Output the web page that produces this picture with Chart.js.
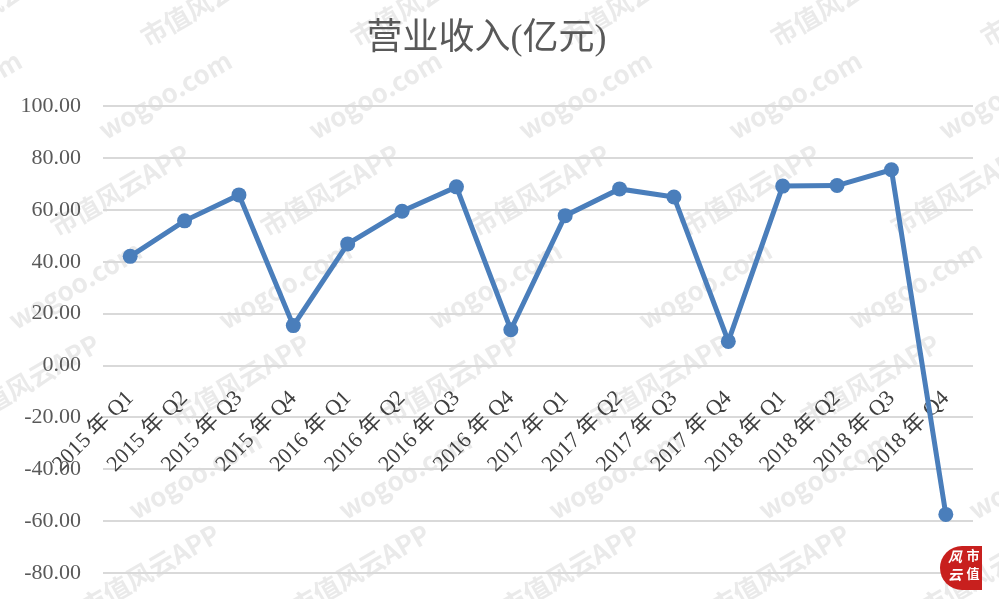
<!DOCTYPE html>
<html>
<head>
<meta charset="utf-8">
<script src="https://cdn.jsdelivr.net/npm/chart.js@4/dist/chart.umd.min.js"></script>
<style>
  html, body { margin: 0; padding: 0; background: #fff; }
  #wrap { width: 999px; height: 599px; position: relative; }
</style>
</head>
<body>
<div id="wrap"><canvas id="revenueChart"></canvas></div>
<script>
var quarters = [
  "2015 年 Q1", "2015 年 Q2", "2015 年 Q3", "2015 年 Q4",
  "2016 年 Q1", "2016 年 Q2", "2016 年 Q3", "2016 年 Q4",
  "2017 年 Q1", "2017 年 Q2", "2017 年 Q3", "2017 年 Q4",
  "2018 年 Q1", "2018 年 Q2", "2018 年 Q3", "2018 年 Q4"
];
var revenue = [
  42.1, 55.8, 65.8, 15.4,
  46.9, 59.5, 68.9, 13.8,
  57.8, 68.1, 65.0, 9.3,
  69.2, 69.4, 75.5, -57.4
];
var yTicks = [100, 80, 60, 40, 20, 0, -20, -40, -60, -80];

var serif = "'Liberation Serif', 'Noto Sans CJK SC', serif";

// faint watermark behind the chart
var watermark = {
  id: "watermark",
  beforeDraw: function (chart) {
    var ctx = chart.ctx;
    ctx.save();
    ctx.font = "bold 26px 'Noto Sans CJK SC', sans-serif";
    ctx.fillStyle = "rgba(170,170,170,0.25)";
    ctx.textAlign = "center";
    ctx.textBaseline = "middle";
    for (var r = -2; r < 8; r++) {
      for (var c = -1; c < 6; c++) {
        var x = c * 210 + (r % 2) * 105 + r * 60;
        var y = r * 95;
        ctx.save();
        ctx.translate(x, y);
        ctx.rotate(-Math.PI / 6);
        ctx.fillText(r % 2 === 0 ? "市值风云APP" : "wogoo.com", 0, 0);
        ctx.restore();
      }
    }
    ctx.restore();
  },
  afterDraw: function (chart) {
    var ctx = chart.ctx;
    ctx.save();
    ctx.fillStyle = "#c8201e";
    ctx.beginPath();
    ctx.arc(962, 568, 22, Math.PI / 2, Math.PI * 1.5);
    ctx.fill();
    ctx.fillRect(962, 546, 20, 44);
    ctx.fillStyle = "#fff";
    ctx.font = "bold 13px 'Noto Sans CJK SC', sans-serif";
    ctx.textAlign = "center";
    ctx.fillText("市", 973, 560);
    ctx.fillText("值", 973, 578);
    ctx.font = "italic bold 14px 'Noto Sans CJK SC', sans-serif";
    ctx.fillText("风", 955, 562);
    ctx.fillText("云", 955, 580);
    ctx.restore();
  }
};

var ctx = document.getElementById("revenueChart").getContext("2d");

var revenueChart = new Chart(ctx, {
  type: "line",
  data: {
    labels: quarters,
    datasets: [
      {
        data: revenue,
        borderColor: "#4a7ebb",
        backgroundColor: "#4a7ebb",
        borderWidth: 5,
        pointRadius: 7.5,
        pointHoverRadius: 7.5,
        pointBorderWidth: 0,
        tension: 0,
      },
    ],
  },
  options: {
    responsive: true,
    maintainAspectRatio: false,
    animation: false,
    layout: {
      padding: { left: 0, right: 26, top: 0, bottom: 26 },
    },
    plugins: {
      legend: { display: false },
      tooltip: { enabled: false },
      title: {
        display: true,
        text: "营业收入(亿元)",
        color: "#595959",
        font: { family: serif, size: 36, weight: "normal", lineHeight: 1.2 },
        padding: { top: 18, bottom: 45 },
      },
    },
    scales: {
      x: {
        type: "category",
        offset: true,
        position: { y: 0 },
        grid: { display: false, drawTicks: false },
        border: { display: false },
        ticks: {
          color: "#404040",
          font: { family: serif, size: 22 },
          minRotation: 45,
          maxRotation: 45,
          autoSkip: false,
          padding: 20,
        },
      },
      y: {
        min: -80,
        max: 100,
        afterFit: function (scale) {
          scale.width = 103;
          // tick padding should not push the plot edges inwards
          scale.paddingTop = 0;
          scale.paddingBottom = 0;
        },
        afterBuildTicks: function (scale) {
          scale.ticks = yTicks.map(function (v) { return { value: v }; });
        },
        grid: { color: "#d9d9d9", lineWidth: 2, drawTicks: false },
        border: { display: false },
        ticks: {
          color: "#595959",
          font: { family: serif, size: 22 },
          padding: 22,
          callback: function (v) { return v.toFixed(2); },
        },
      },
    },
  },
  plugins: [watermark],
});
</script>
</body>
</html>
